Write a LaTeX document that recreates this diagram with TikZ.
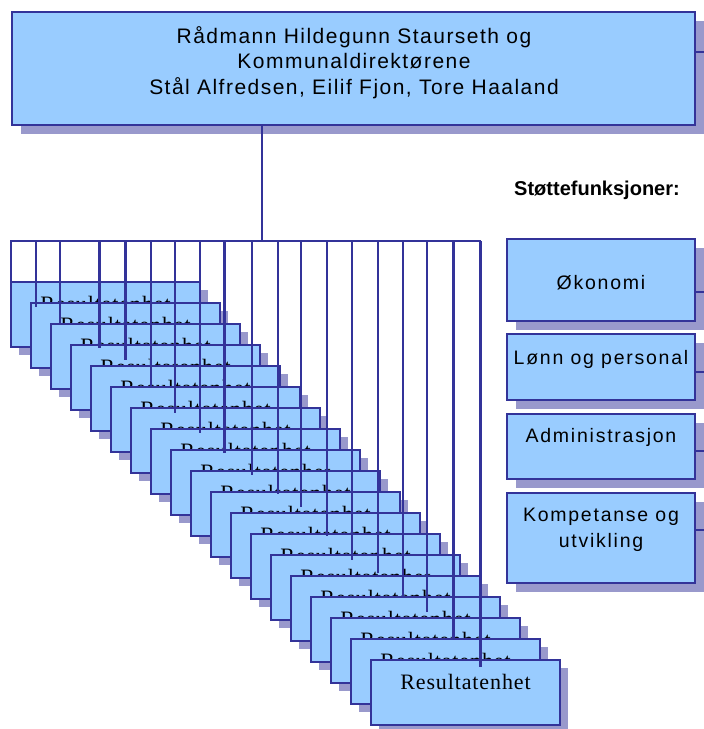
\documentclass[tikz,border=0pt]{standalone}
\usepackage{fontspec}
\setmainfont{Liberation Sans}
\newfontfamily\chartsans[LetterSpace=7]{Liberation Sans}
\newfontfamily\sidesans[LetterSpace=9]{Liberation Sans}
\newfontfamily\chartserif[LetterSpace=4]{Liberation Serif}
\usetikzlibrary{shadows}
\definecolor{boxfill}{HTML}{99CCFF}
\definecolor{boxline}{HTML}{333399}
\definecolor{boxshade}{HTML}{9999CC}
\tikzset{
  orgbox/.style={draw=boxline, fill=boxfill, line width=1.6pt, anchor=north west,
    inner sep=0pt, outer sep=0pt,
    general shadow={fill=boxshade, shadow xshift=#1, shadow yshift=-#1}},
  orgbox/.default=9pt,
  link/.style={draw=boxline, line width=1.6pt},
  heavylink/.style={draw=boxline, line width=3pt},
  headlabel/.style={font=\chartsans\fontsize{21}{25.5}\selectfont, align=center, inner sep=0pt},
  sidelabel/.style={font=\sidesans\fontsize{19.5}{26}\selectfont, align=center, inner sep=0pt},
  unitlabel/.style={font=\chartserif\fontsize{22}{26}\selectfont, anchor=base, inner sep=0pt},
}
\begin{document}
\begin{tikzpicture}[x=1pt, y=-1pt]
\useasboundingbox (0,0) rectangle (704,729);
\clip (0,0) rectangle (704,729);

% management box
\node[orgbox, minimum width=683pt, minimum height=113pt] (head) at (12,12) {};
\node[headlabel] (headtext) at (354,62.5)
  {Rådmann Hildegunn Staurseth og\\Kommunaldirektørene\\Stål Alfredsen, Eilif Fjon, Tore Haaland};
\coordinate (headR) at (704,52);
\draw[link] (headR -| head.east) -- (headR);

% support functions
\node[font=\bfseries\fontsize{20}{24}\selectfont, inner sep=0pt] (support) at (597,190) {Støttefunksjoner:};

\node[orgbox, minimum width=188pt, minimum height=82pt] (econ) at (507,239) {};
\node[sidelabel] (econtext) at (601,283) {Økonomi};
\node[orgbox, minimum width=188pt, minimum height=66pt] (pay) at (507,334) {};
\node[sidelabel] (paytext) at (601,359) {Lønn og personal};
\node[orgbox, minimum width=188pt, minimum height=65pt] (admin) at (507,414) {};
\node[sidelabel] (admintext) at (601,437) {Administrasjon};
\node[orgbox, minimum width=188pt, minimum height=90pt] (skill) at (507,493) {};
\node[sidelabel] (skilltext) at (601,530) {Kompetanse og\\utvikling};

\foreach \n/\y in {econ/292, pay/372, admin/451, skill/530} {
  \coordinate (\n R) at (704,\y);
  \draw[link] (\n R -| \n.east) -- (\n R);
}

% stacked result units
\foreach \i in {0,...,18} {
  \node[orgbox=8pt, minimum width=189pt, minimum height=65pt] (u\i) at ({11+20*\i},{282+21*\i}) {};
  \node[unitlabel] (ul\i) at ({105.5+20*\i},{311+21*\i}) {Resultatenhet};
}

% bus with drops
\coordinate (hub) at (262,241);
\draw[link] (hub |- head.south) -- (hub);
\foreach \x/\e [count=\k from 0] in {11/282, 36/307, 60/323, 99/348, 125/360, 151/387,
    175/413, 200/433, 224/453, 252/475, 278/494, 301/507, 327/536, 352/560, 378/573,
    403/598, 427/612, 453/638, 480/667} {
  \coordinate (b\k) at (\x,241);
  \coordinate (e\k) at (\x,\e);
}
\draw[link, line cap=rect] (b0) -- (b18);
\foreach \k in {0,1,2,5,6,7,9,10,11,12,13,14,15,16}
  \draw[link] (b\k) -- (e\k);
\foreach \k in {3,4,8,17,18}
  \draw[heavylink] (b\k) -- (e\k);
\end{tikzpicture}
\end{document}
